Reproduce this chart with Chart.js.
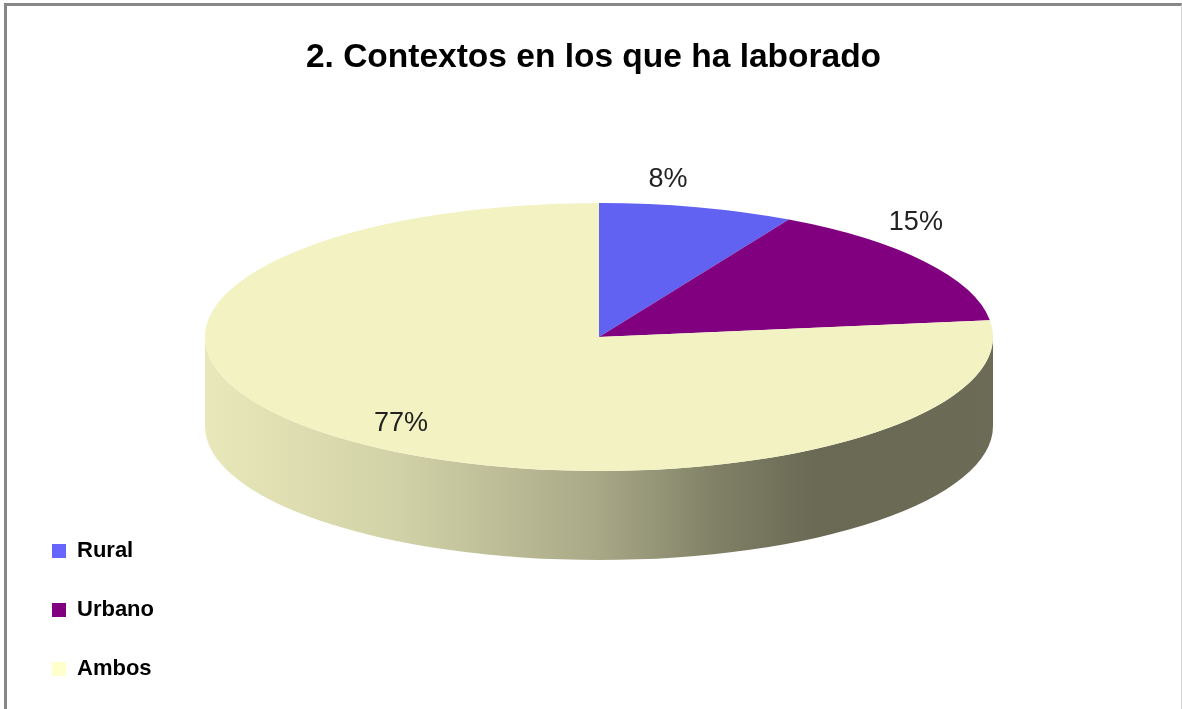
<!DOCTYPE html>
<html>
<head>
<meta charset="utf-8">
<script src="https://cdn.jsdelivr.net/npm/chart.js@4.4.1/dist/chart.umd.min.js"></script>
<style>
    html, body { margin: 0; padding: 0; background: #fff; }
    #wrap { position: relative; width: 1182px; height: 709px; overflow: hidden; }
    #frame {
        position: absolute; left: 4px; top: 3px; right: 0; bottom: -10px;
        border-left: 3px solid #878787; border-top: 3px solid #878787;
        border-right: 1px solid #d4d4d4; pointer-events: none;
    }
    canvas { display: block; }
</style>
</head>
<body>
<div id="wrap">
    <canvas id="pieChart" width="1182" height="709"></canvas>
    <div id="frame"></div>
</div>
<script>
const categories = ['Rural', 'Urbano', 'Ambos']
const percentages = [8, 15, 77]
const baseColors = ['#6666ff', '#800080', '#ffffcc']

// look of the 3d pie
const PIE_CX = 599
const PIE_CY = 337
const PIE_RX = 394
const PIE_RY = 134
const DEPTH = 89
const SQUASH = PIE_RY / PIE_RX

function shade(hex, f) {
    const n = parseInt(hex.slice(1), 16)
    const r = Math.min(255, Math.round(((n >> 16) & 255) * f))
    const g = Math.min(255, Math.round(((n >> 8) & 255) * f))
    const b = Math.min(255, Math.round((n & 255) * f))
    return 'rgb(' + r + ',' + g + ',' + b + ')'
}

const pie3d = {
    id: 'pie3d',
    beforeDatasetsDraw(chart) {
        const ctx = chart.ctx
        const arcs = chart.getDatasetMeta(0).data
        const first = arcs[0]
        const r = first.outerRadius
        const d = DEPTH / SQUASH

        ctx.save()
        ctx.translate(PIE_CX, PIE_CY)
        ctx.scale(1, SQUASH)
        ctx.translate(-first.x, -first.y)

        // side wall, only the front half can be seen
        arcs.forEach(function(arc, i) {
            const grad = ctx.createLinearGradient(arc.x - r, 0, arc.x + r, 0)
            grad.addColorStop(0, shade(baseColors[i], 0.91))
            grad.addColorStop(0.25, shade(baseColors[i], 0.82))
            grad.addColorStop(0.5, shade(baseColors[i], 0.66))
            grad.addColorStop(0.65, shade(baseColors[i], 0.5))
            grad.addColorStop(0.78, shade(baseColors[i], 0.41))
            grad.addColorStop(1, shade(baseColors[i], 0.42))
            for (let k = -2; k <= 1; k++) {
                const lo = Math.max(arc.startAngle, k * 2 * Math.PI)
                const hi = Math.min(arc.endAngle, k * 2 * Math.PI + Math.PI)
                if (hi <= lo) continue
                ctx.beginPath()
                ctx.arc(arc.x, arc.y, r, lo, hi)
                ctx.arc(arc.x, arc.y + d, r, hi, lo, true)
                ctx.closePath()
                ctx.fillStyle = grad
                ctx.fill()
            }
        })
    },
    afterDatasetsDraw(chart) {
        const ctx = chart.ctx
        ctx.restore()

        const arcs = chart.getDatasetMeta(0).data
        ctx.save()
        ctx.font = '27px "Liberation Sans", Arial, sans-serif'
        ctx.fillStyle = '#222'
        ctx.textAlign = 'center'
        ctx.textBaseline = 'middle'
        arcs.forEach(function(arc, i) {
            let mid = (arc.startAngle + arc.endAngle) / 2
            let x, y
            if (percentages[i] >= 50) {
                x = PIE_CX + 0.76 * PIE_RX * Math.cos(mid)
                y = PIE_CY + 0.86 * PIE_RY * Math.sin(mid)
            } else {
                // excel puts outside labels a bit before the middle of the slice
                mid -= 8 * Math.PI / 180
                x = PIE_CX + PIE_RX * Math.cos(mid) + 25
                y = PIE_CY + PIE_RY * Math.sin(mid) - 24
            }
            ctx.fillText(percentages[i] + '%', x, y)
        })
        ctx.restore()
    }
}

const ctx = document.getElementById('pieChart').getContext('2d')
const pieChart = new Chart(ctx, {
    type: 'pie',
    data: {
        labels: categories,
        datasets: [{
            data: percentages,
            backgroundColor: baseColors.map((c, i) => shade(c, i === 1 ? 1 : 0.95)),
            borderWidth: 0,
            radius: PIE_RX,
            clip: false
        }]
    },
    options: {
        responsive: false,
        animation: false,
        events: [],
        layout: {
            padding: { left: 15, right: 10, bottom: -8 }
        },
        plugins: {
            title: {
                display: true,
                text: '2. Contextos en los que ha laborado',
                color: '#000',
                font: { family: '"Liberation Sans", Arial, sans-serif', size: 33.5, weight: 'bold' },
                padding: { top: 38, bottom: 10 }
            },
            legend: {
                position: 'left',
                align: 'end',
                labels: {
                    boxWidth: 14,
                    boxHeight: 14,
                    padding: 37,
                    color: '#000',
                    font: { family: '"Liberation Sans", Arial, sans-serif', size: 22, weight: 'bold' },
                    generateLabels: function(chart) {
                        return categories.map(function(name, i) {
                            return {
                                text: name,
                                fillStyle: baseColors[i],
                                strokeStyle: baseColors[i],
                                lineWidth: 0,
                                index: i
                            }
                        })
                    }
                }
            },
            tooltip: { enabled: false }
        }
    },
    plugins: [pie3d]
})
</script>
</body>
</html>
